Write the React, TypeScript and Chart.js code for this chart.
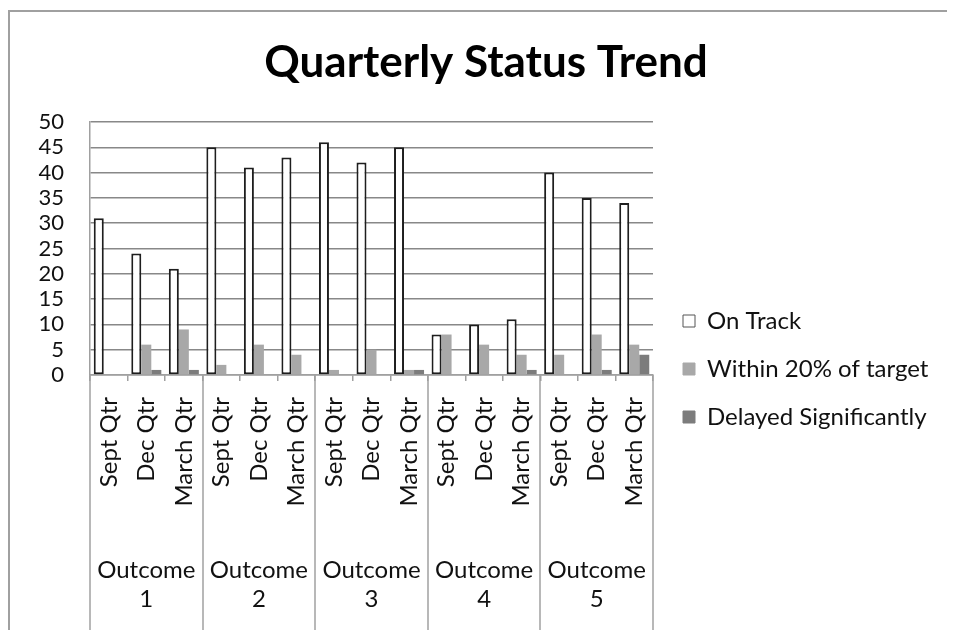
import React, { useEffect, useRef } from 'react';
import { Chart, registerables } from 'chart.js';

Chart.register(...registerables);

const TITLE = 'Quarterly Status Trend';
const QUARTERS = [
  'Sept Qtr', 'Dec Qtr', 'March Qtr',
  'Sept Qtr', 'Dec Qtr', 'March Qtr',
  'Sept Qtr', 'Dec Qtr', 'March Qtr',
  'Sept Qtr', 'Dec Qtr', 'March Qtr',
  'Sept Qtr', 'Dec Qtr', 'March Qtr',
];
const OUTCOMES = [
  ['Outcome', '1'],
  ['Outcome', '2'],
  ['Outcome', '3'],
  ['Outcome', '4'],
  ['Outcome', '5'],
];
const SERIES_NAMES = ['On Track', 'Within 20% of target', 'Delayed Significantly'];
const ON_TRACK = [31, 24, 21, 45, 41, 43, 46, 42, 45, 8, 10, 11, 40, 35, 34];
const WITHIN_20 = [0, 6, 9, 2, 6, 4, 1, 5, 1, 8, 6, 4, 4, 8, 6];
const DELAYED = [0, 1, 1, 0, 0, 0, 0, 0, 1, 0, 0, 1, 0, 1, 4];
const Y_MIN = 0;
const Y_MAX = 50;
const Y_STEP = 5;

const FONT = 'Lato, "Open Sans", sans-serif';
const TEXT = '#111111';
const LINE = '#a0a0a0';

const layoutPlugin = {
  id: 'excelLayout',
  afterLayout(chart: any) {
    const lg = chart.legend;
    if (lg) {
      lg.left = chart.chartArea.right + 6;
      lg.width = chart.width - lg.left;
      lg.right = chart.width;
      lg.top = 273;
    }
  },
  afterDraw(chart: any) {
    const x = chart.scales.x;
    const x2 = chart.scales.x2;
    if (!x || !x2) return;
    const ctx = chart.ctx;
    ctx.save();
    ctx.strokeStyle = LINE;
    ctx.lineWidth = 1.5;
    for (let i = 0; i <= OUTCOMES.length; i++) {
      const px = Math.round(x2.getPixelForValue(i - 0.5));
      ctx.beginPath();
      ctx.moveTo(px, x.top);
      ctx.lineTo(px, x2.bottom);
      ctx.stroke();
    }
    ctx.restore();
  },
};

export default function App() {
  const ref = useRef<HTMLCanvasElement | null>(null);

  useEffect(() => {
    if (!ref.current) return;
    const chart = new Chart(ref.current, {
      type: 'bar',
      data: {
        labels: QUARTERS,
        datasets: [
          {
            label: SERIES_NAMES[0],
            data: ON_TRACK,
            backgroundColor: '#ffffff',
            borderColor: '#1e1e1e',
            borderWidth: 2,
            borderSkipped: false,
            categoryPercentage: 0.8,
            barPercentage: 1.0,
          },
          {
            label: SERIES_NAMES[1],
            data: WITHIN_20,
            backgroundColor: '#a8a8a8',
            borderWidth: 0,
            categoryPercentage: 0.8,
            barPercentage: 1.0,
          },
          {
            label: SERIES_NAMES[2],
            data: DELAYED,
            backgroundColor: '#7c7c7c',
            borderWidth: 0,
            categoryPercentage: 0.8,
            barPercentage: 1.0,
          },
        ],
      },
      options: {
        animation: false,
        responsive: true,
        maintainAspectRatio: false,
        layout: { padding: { left: 15, right: 0, top: 0, bottom: 0 } },
        plugins: {
          tooltip: { enabled: false },
          title: {
            display: true,
            text: TITLE,
            color: '#000000',
            font: { family: FONT, size: 44, weight: 'bold' },
            padding: { top: 24.6, bottom: 32.6 },
          },
          legend: {
            display: true,
            position: 'right',
            align: 'start',
            labels: {
              color: TEXT,
              font: { family: FONT, size: 24 },
              boxWidth: 12,
              boxHeight: 12,
              padding: 24,
              generateLabels: (c: any) =>
                Chart.defaults.plugins.legend.labels.generateLabels(c).map((l: any) => ({
                  ...l,
                  lineWidth: 1,
                  strokeStyle: l.datasetIndex === 0 ? '#555555' : l.fillStyle,
                })),
            },
          },
        },
        scales: {
          x: {
            type: 'category',
            position: 'bottom',
            weight: 0,
            offset: true,
            grid: {
              display: true,
              drawOnChartArea: false,
              offset: true,
              tickLength: 6,
              color: LINE,
              lineWidth: 1.5,
            },
            border: { display: true, color: LINE, width: 1.5 },
            ticks: {
              autoSkip: false,
              minRotation: 90,
              maxRotation: 90,
              padding: 16,
              color: TEXT,
              font: { family: FONT, size: 24 },
            },
            afterFit: (s: any) => {
              s.height = 173;
              s.paddingRight = 294;
            },
          },
          x2: {
            type: 'category',
            position: 'bottom',
            weight: 1,
            labels: OUTCOMES as any,
            offset: true,
            grid: { display: false },
            border: { display: false },
            ticks: {
              autoSkip: false,
              maxRotation: 0,
              minRotation: 0,
              padding: 0,
              color: TEXT,
              font: { family: FONT, size: 24 },
            },
            afterFit: (s: any) => {
              s.height = 82;
            },
          },
          y: {
            type: 'linear',
            min: Y_MIN,
            max: Y_MAX,
            ticks: {
              stepSize: Y_STEP,
              autoSkip: false,
              padding: 26,
              color: TEXT,
              font: { family: FONT, size: 22 },
            },
            grid: { color: '#888888', lineWidth: 1.5, drawTicks: false },
            border: { display: true, color: LINE, width: 1.5 },
            afterFit: (s: any) => {
              s.width = 65;
            },
          },
        },
      },
      plugins: [layoutPlugin],
    } as any);
    return () => chart.destroy();
  }, []);

  return (
    <div style={{ paddingTop: 2 }}>
      <div
        style={{
          borderLeft: '2px solid #a0a0a0',
          borderTop: '2px solid #a0a0a0',
          width: 937,
          height: 618,
          position: 'relative',
        }}
      >
        <canvas ref={ref} style={{ display: 'block' }} />
      </div>
    </div>
  );
}
